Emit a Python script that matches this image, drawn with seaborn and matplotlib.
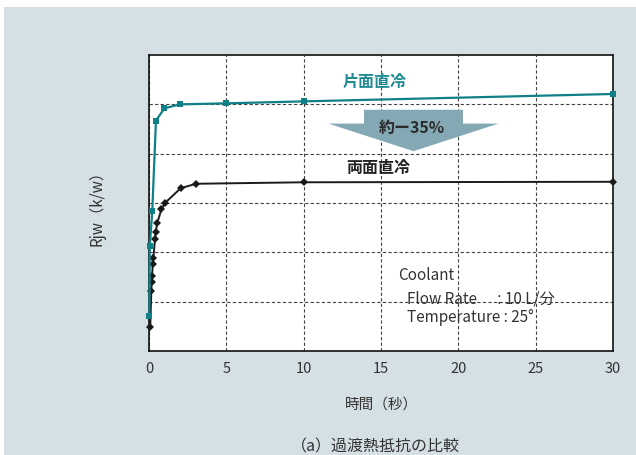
import matplotlib.pyplot as plt
import matplotlib.patches as mpatches
import pandas as pd
import seaborn as sns

# Data (time in seconds, Rjw in grid units)
single_time = [0.02, 0.02, 0.02, 0.05, 0.21, 0.45, 1.0, 2.0, 5.0, 10.0, 30.0]
single_rjw = [0.28, 0.78, 1.07, 2.12, 2.83, 4.67, 4.92, 5.0, 5.02, 5.06, 5.21]

double_time = [0.08, 0.15, 0.17, 0.2, 0.24, 0.28, 0.39, 0.43, 0.54, 0.8, 1.03, 2.05, 3.04, 10.0, 30.0]
double_rjw = [0.48, 1.21, 1.39, 1.53, 1.76, 1.88, 2.27, 2.41, 2.6, 2.87, 3.0, 3.3, 3.39, 3.42, 3.43]

x_ticks = [0, 5, 10, 15, 20, 25, 30]

single_df = pd.DataFrame({'time': single_time, 'rjw': single_rjw})
double_df = pd.DataFrame({'time': double_time, 'rjw': double_rjw})

sns.set_style("white")
plt.rcParams['font.family'] = ['Noto Sans CJK JP', 'DejaVu Sans']

teal = '#0f8088'
bg = '#d5e0e5'

fig = plt.figure(figsize=(6.36, 4.56), dpi=100, facecolor='white')
# light blue-grey panel behind the chart
fig.patches.append(mpatches.Rectangle((4 / 636, 0), 1, 1 - 8 / 456, transform=fig.transFigure,
                                      facecolor=bg, edgecolor='none', zorder=-1))
ax = fig.add_axes([149 / 636, 1 - 352 / 456, 464 / 636, 296 / 456])
ax.set_facecolor('white')

sns.lineplot(data=single_df, x='time', y='rjw', ax=ax, color=teal, linewidth=1.6,
             marker='s', markersize=5, markeredgewidth=0, sort=False, zorder=4, clip_on=False)
sns.lineplot(data=double_df, x='time', y='rjw', ax=ax, color='#1a1a1a', linewidth=1.4,
             marker='D', markersize=4.5, markeredgewidth=0, sort=False, zorder=3, clip_on=False)

ax.set_xlim(0, 30)
ax.set_ylim(0, 6)
ax.set_xticks(x_ticks)
ax.set_xticklabels([str(t) for t in x_ticks])
ax.set_yticks([1, 2, 3, 4, 5])
ax.set_yticklabels([])
ax.tick_params(axis='x', direction='in', length=4, width=0.8, labelsize=10.5,
               colors='black', labelcolor='#333333', pad=7)
ax.tick_params(axis='y', length=0)
ax.grid(True, linestyle=(0, (3, 2)), linewidth=0.8, color='#444444')
for s in ax.spines.values():
    s.set_color('#111111')
    s.set_linewidth(1.2)
    s.set_zorder(2.5)

ax.set_xlabel('時間（秒）', fontsize=10.5, color='#333333', labelpad=16)
ax.set_ylabel('Rjw（k/w）', fontsize=11, color='#333333', labelpad=28)

# series labels
ax.text(14.6, 5.48, '片面直冷', color='#1f8a93', fontsize=11.5, fontweight='bold',
        ha='center', va='center', zorder=6)
ax.text(14.8, 3.73, '両面直冷', color='#222222', fontsize=11.5, fontweight='bold',
        ha='center', va='center', zorder=6)

# reduction arrow
arrow = mpatches.FancyArrow(17.1, 4.89, 0, -0.84, width=6.4, head_width=11.0, head_length=0.56,
                            length_includes_head=True, facecolor='#84a9b5', edgecolor='none', zorder=5)
ax.add_patch(arrow)
ax.text(17.0, 4.55, '約ー35%', color='#2b2b2b', fontsize=11.5, fontweight='bold',
        ha='center', va='center', zorder=6)

# coolant conditions
ax.text(16.1, 1.55, 'Coolant', fontsize=11, color='#333333', ha='left', va='center')
ax.text(16.7, 1.08, 'Flow Rate      : 10 L/分', fontsize=11, color='#333333', ha='left', va='center')
ax.text(16.7, 0.70, 'Temperature : 25°', fontsize=11, color='#333333', ha='left', va='center')

fig.text(375 / 636, 1 - 447 / 456, '（a）過渡熱抵抗の比較', fontsize=11.5, color='#333333',
         ha='center', va='center')

fig.savefig('out.png', dpi=100, facecolor=fig.get_facecolor())
